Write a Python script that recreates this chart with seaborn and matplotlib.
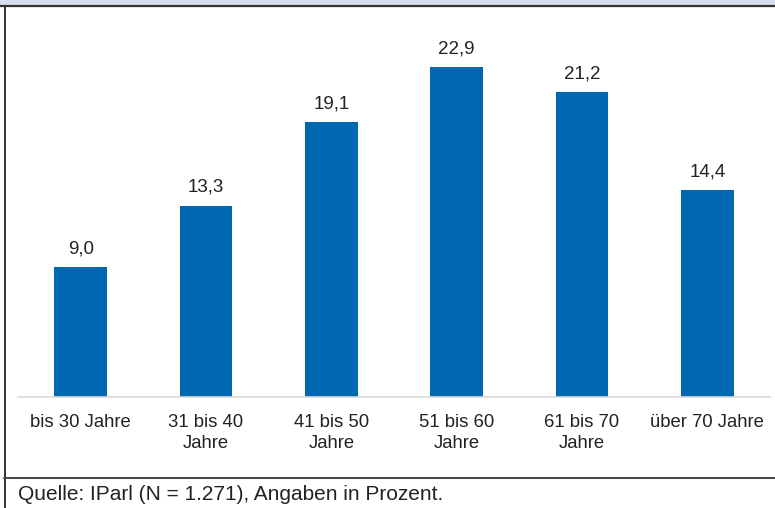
import matplotlib
matplotlib.use("Agg")
import matplotlib.pyplot as plt
import seaborn as sns
import pandas as pd
from matplotlib.lines import Line2D
from matplotlib.patches import Rectangle

categories = ["bis 30 Jahre", "31 bis 40\nJahre", "41 bis 50\nJahre",
              "51 bis 60\nJahre", "61 bis 70\nJahre", "über 70 Jahre"]
values = [9.0, 13.3, 19.1, 22.9, 21.2, 14.4]
value_labels = ["9,0", "13,3", "19,1", "22,9", "21,2", "14,4"]
source = "Quelle: IParl (N = 1.271), Angaben in Prozent."

sns.set_theme(style="white")
plt.rcParams['font.family'] = ['Liberation Sans', 'DejaVu Sans']

W, H = 775, 508
fig = plt.figure(figsize=(W / 100, H / 100), dpi=100)
ax = fig.add_axes([18 / W, 1 - 397 / H, 752 / W, 380 / H])

df = pd.DataFrame({"cat": categories, "val": values})
sns.barplot(data=df, x="cat", y="val", color="#0067b1", saturation=1,
            width=0.42, ax=ax, edgecolor="none")

ax.set_ylim(0, 26.4)
ax.set_xlim(-0.5, 5.5)
ax.set_xlabel("")
ax.set_ylabel("")
ax.set_yticks([])
for s in ["top", "right", "left"]:
    ax.spines[s].set_visible(False)
ax.spines["bottom"].set_color("#d9d9d9")
ax.spines["bottom"].set_linewidth(1.2)
ax.tick_params(axis="x", length=0, pad=12, labelsize=13.3, labelcolor="#222222")
for t in ax.get_xticklabels():
    t.set_linespacing(1.35)

for p, lab in zip(ax.patches, value_labels):
    x = p.get_x() + p.get_width() / 2
    ax.annotate(lab, (x, p.get_height()), xytext=(0, 7), textcoords="offset points",
                ha="center", va="bottom", fontsize=13.5, color="#222222")

# frame decorations
fig.patches.append(Rectangle((0, 1 - 5 / H), 1, 5 / H, transform=fig.transFigure,
                             facecolor="#d6dff0", edgecolor="none"))
fig.lines.append(Line2D([0, 1], [1 - 6 / H, 1 - 6 / H], transform=fig.transFigure,
                        color="#333333", lw=1.6))
fig.lines.append(Line2D([4.5 / W, 4.5 / W], [0, 1 - 6 / H], transform=fig.transFigure,
                        color="#333333", lw=1.4))
fig.lines.append(Line2D([4 / W, 1], [1 - 477.5 / H, 1 - 477.5 / H], transform=fig.transFigure,
                        color="#444444", lw=1.4))

fig.text(18 / W, 1 - 494 / H, source, ha="left", va="center", fontsize=15, color="#222222")

fig.savefig("out.png", dpi=100)
